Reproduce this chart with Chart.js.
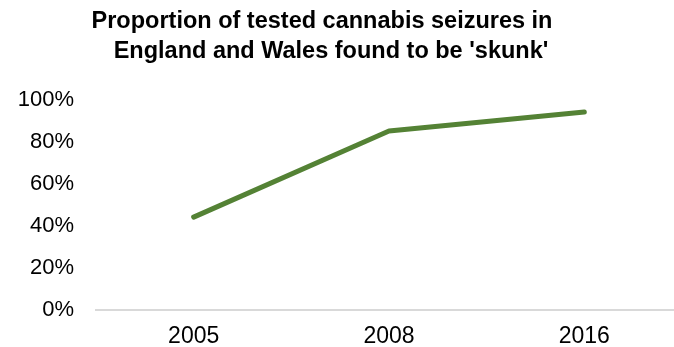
<!DOCTYPE html>
<html>
<head>
<meta charset="utf-8">
<script src="https://cdn.jsdelivr.net/npm/chart.js@4"></script>
<style>
    html, body { margin: 0; padding: 0; background: #fff; }
    #wrap { width: 674px; height: 347px; overflow: hidden; }
</style>
</head>
<body>
<div id="wrap"><canvas id="skunkChart" width="682" height="347"></canvas></div>
<script>
// данные графика
const years = ["2005", "2008", "2016"];
const skunkShare = [44, 85, 94];
const titleLines = ["Proportion of tested cannabis seizures in", "England and Wales found to be 'skunk'"];

const fontFamily = "'Liberation Sans', Arial, sans-serif";

// заголовок в две строки (как в Excel — строки центрированы чуть по-разному)
const titlePlugin = {
    id: 'twoLineTitle',
    afterDraw(chart) {
        const c = chart.ctx;
        c.save();
        c.font = "bold 23.5px " + fontFamily;
        c.fillStyle = '#000';
        c.textAlign = 'center';
        c.textBaseline = 'middle';
        c.fillText(titleLines[0], 322, 22);
        c.fillText(titleLines[1], 331, 52);
        c.restore();
    }
};

let ctx = document.getElementById("skunkChart").getContext("2d");
let skunkChart = new Chart(ctx, {
    type: 'line',
    data: {
        labels: years,
        datasets: [{
            data: skunkShare,
            borderColor: '#548235',
            borderWidth: 5,
            borderCapStyle: 'round',
            borderJoinStyle: 'round',
            pointRadius: 0,
            fill: false,
            tension: 0
        }]
    },
    options: {
        responsive: false,
        animation: false,
        layout: { padding: { left: 0, right: 0, top: 99.5, bottom: 0 } },
        plugins: {
            legend: { display: false },
            tooltip: { enabled: false },
            title: { display: false }
        },
        scales: {
            x: {
                offset: true,
                grid: { display: false, drawTicks: false },
                border: { display: true, color: '#d9d9d9', width: 2 },
                afterFit: function (scale) { scale.height = 37.5; },
                ticks: {
                    color: '#000',
                    padding: 16,
                    maxRotation: 0,
                    minRotation: 0,
                    font: { family: fontFamily, size: 23, lineHeight: 1 }
                }
            },
            y: {
                min: 0,
                max: 100,
                grid: { display: false, drawTicks: false },
                border: { display: false },
                afterFit: function (scale) { scale.width = 96; },
                ticks: {
                    stepSize: 20,
                    color: '#000',
                    padding: 22,
                    font: { family: fontFamily, size: 22 },
                    callback: function (v) { return v + '%'; }
                }
            }
        }
    },
    plugins: [titlePlugin]
});
</script>
</body>
</html>
